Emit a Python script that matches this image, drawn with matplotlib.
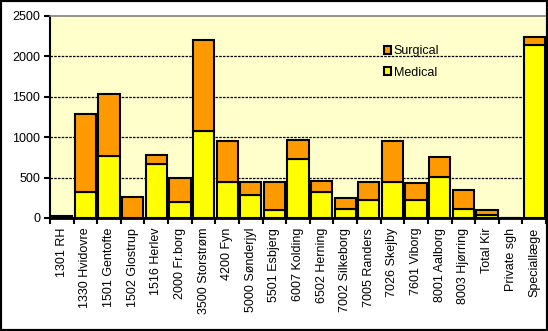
import matplotlib.pyplot as plt
import numpy as np
from matplotlib.patches import Rectangle

plt.rcParams['font.family'] = ['Liberation Sans', 'DejaVu Sans']
plt.rcParams['font.size'] = 9

# data
labels = ["1301 RH", "1330 Hvidovre", "1501 Gentofte", "1502 Glostrup", "1516 Herlev",
          "2000 Fr.borg", "3500 Storstrøm", "4200 Fyn", "5000 Sønderjyl", "5501 Esbjerg",
          "6007 Kolding", "6502 Herning", "7002 Silkeborg", "7005 Randers", "7026 Skejby",
          "7601 Viborg", "8001 Aalborg", "8003 Hjørring", "Total Kir", "Private sgh",
          "Speciallæge"]
medical = [0, 316, 762, 0, 663, 198, 1079, 440, 284, 103,
           733, 316, 115, 218, 449, 226, 502, 115, 41, 0, 2142]
surgical = [20, 973, 775, 263, 111, 300, 1125, 515, 165, 337,
            235, 145, 136, 222, 506, 202, 247, 235, 53, 0, 103]

x = np.arange(len(labels))

fig = plt.figure(figsize=(5.48, 3.31), dpi=100)
ax = fig.add_axes([0.0912, 0.3414, 0.9052, 0.6103])
ax.set_facecolor('#FFFFCC')

ax.bar(x, medical, 0.9, color='#FFFF00', edgecolor='black', linewidth=1.5,
       label='Medical', zorder=3)
ax.bar(x, surgical, 0.9, bottom=medical, color='#FF9900', edgecolor='black',
       linewidth=1.5, label='Surgical', zorder=3)

ax.set_xlim(-0.5, len(labels) - 0.5)
ax.set_ylim(0, 2500)
ax.set_yticks(np.arange(0, 2501, 500))
for y in range(500, 2500, 500):
    ax.axhline(y, color='black', linestyle=(0, (2, 1)), linewidth=0.9, zorder=1)

ax.set_xticks(x)
ax.set_xticklabels(labels, rotation=90, ha='center', va='top')
ax.set_xticks(np.arange(-0.5, len(labels)), minor=True)
ax.tick_params(axis='x', which='major', length=0, pad=7)
ax.tick_params(axis='x', which='minor', length=4, width=1.5, direction='out')
ax.tick_params(axis='y', length=4, width=1.5, direction='out', pad=3)

ax.spines['left'].set_linewidth(1.5)
ax.spines['bottom'].set_linewidth(2)
ax.spines['top'].set_color('#808080')
ax.spines['top'].set_linewidth(1.2)
ax.spines['right'].set_visible(False)

handles, lbls = ax.get_legend_handles_labels()
leg = ax.legend(handles[::-1], lbls[::-1], loc='upper left',
                bbox_to_anchor=(0.65, 0.91), frameon=False,
                handlelength=0.6, handleheight=0.6, handletextpad=0.2,
                labelspacing=0.75, fontsize=9)

fig.patches.append(Rectangle((0, 0), 1, 1, transform=fig.transFigure,
                             fill=False, edgecolor='black', linewidth=3))

fig.savefig('out.png', dpi=100)
